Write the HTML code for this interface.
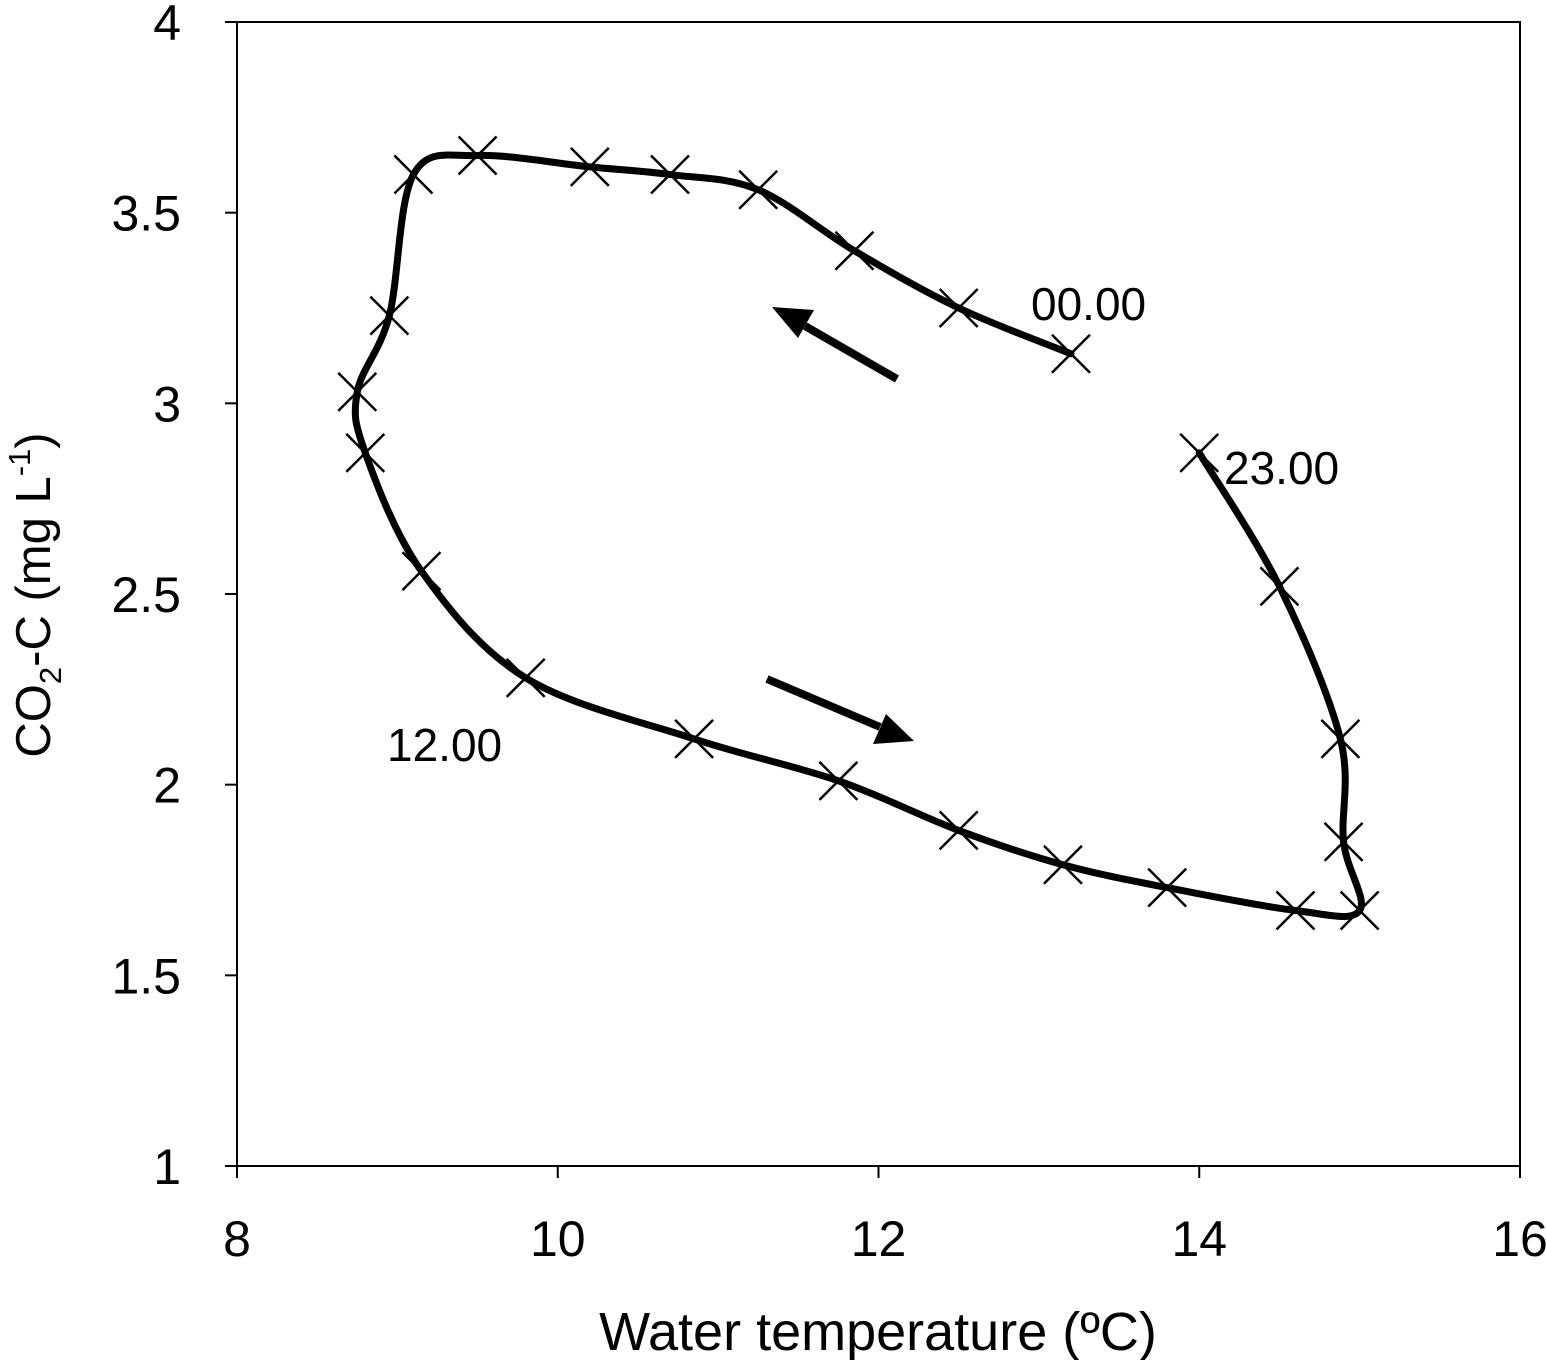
<!DOCTYPE html>
<html><head><meta charset="utf-8"><style>
html,body{margin:0;padding:0;background:#fff;}
svg text{font-family:"Liberation Sans",sans-serif;fill:#000;}
</style></head><body>
<svg id="chart" width="1546" height="1360" viewBox="0 0 1546 1360">
<rect x="237" y="22" width="1283" height="1144" fill="none" stroke="#000" stroke-width="2"/>
<g id="axes"></g>
<g id="series"></g>
<g>
<text x="1031" y="320" font-size="46">00.00</text>
<text x="1224" y="484" font-size="46">23.00</text>
<text x="387" y="761" font-size="46">12.00</text>
<line x1="897" y1="379" x2="805" y2="326" stroke="#000" stroke-width="8"/>
<polygon points="772,307 814,310 798,338" fill="#000"/>
<line x1="767" y1="679" x2="880" y2="727" stroke="#000" stroke-width="8"/>
<polygon points="914,741 873,744 886,714" fill="#000"/>
</g>
<text x="878" y="1350" font-size="54" text-anchor="middle">Water temperature (ºC)</text>
<text transform="translate(50,595) rotate(-90)" font-size="49" text-anchor="middle">CO<tspan font-size="31" dy="11">2</tspan><tspan dy="-11">-C (mg L</tspan><tspan font-size="31" dy="-20">-1</tspan><tspan dy="20">)</tspan></text>
</svg>
<script>
const xTicks=[8,10,12,14,16];
const yTicks=[1,1.5,2,2.5,3,3.5,4];
const yTickLabels=["1","1.5","2","2.5","3","3.5","4"];
const temps=[13.2,12.5,11.85,11.25,10.7,10.2,9.5,9.1,8.95,8.75,8.8,9.15,9.8,10.85,11.75,12.5,13.15,13.8,14.6,15.0,14.9,14.88,14.5,14.0];
const co2=[3.13,3.25,3.4,3.56,3.6,3.62,3.65,3.6,3.23,3.03,2.87,2.56,2.28,2.12,2.01,1.88,1.79,1.73,1.67,1.67,1.85,2.12,2.52,2.87];
const NS="http://www.w3.org/2000/svg";
const xs=v=>237+(v-8)/8*1283;
const ys=v=>1166-(v-1)/3*1144;
const axes=document.getElementById('axes');
const series=document.getElementById('series');
function mk(tag,attrs,parent){const e=document.createElementNS(NS,tag);for(const k in attrs)e.setAttribute(k,attrs[k]);parent.appendChild(e);return e;}
xTicks.forEach(t=>{
  const l=mk('line',{x1:xs(t),x2:xs(t),y1:1166,y2:1178,stroke:'#000','stroke-width':2},axes);
  
  
  const tx=mk('text',{x:xs(t),y:1256,'font-size':50,'text-anchor':'middle'},axes);
  tx.textContent=String(t);
  
  
});
yTicks.forEach((t,i)=>{
  const l=mk('line',{x1:225,x2:237,y1:ys(t),y2:ys(t),stroke:'#000','stroke-width':2},axes);
  
  
  const tx=mk('text',{x:181,y:ys(t)+18,'font-size':50,'text-anchor':'end'},axes);
  tx.textContent=yTickLabels[i];
  
  
});
const P=temps.map((t,i)=>[xs(t),ys(co2[i])]);
let d='M'+P[0][0]+','+P[0][1];
for(let i=0;i<P.length-1;i++){
  const p0=P[i-1]||P[i],p1=P[i],p2=P[i+1],p3=P[i+2]||P[i+1];
  const c1=[p1[0]+(p2[0]-p0[0])/6,p1[1]+(p2[1]-p0[1])/6];
  const c2=[p2[0]-(p3[0]-p1[0])/6,p2[1]-(p3[1]-p1[1])/6];
  d+=` C${c1[0]},${c1[1]} ${c2[0]},${c2[1]} ${p2[0]},${p2[1]}`;
}
const path=mk('path',{d:d,fill:'none',stroke:'#000','stroke-width':7,'stroke-linejoin':'round','stroke-linecap':'round'},series);


P.forEach(p=>{
  const s=19;
  const g=mk('path',{d:`M${p[0]-s},${p[1]-s}L${p[0]+s},${p[1]+s}M${p[0]-s},${p[1]+s}L${p[0]+s},${p[1]-s}`,stroke:'#000','stroke-width':2.5,fill:'none'},series);
  
  
});
</script>
</body></html>
